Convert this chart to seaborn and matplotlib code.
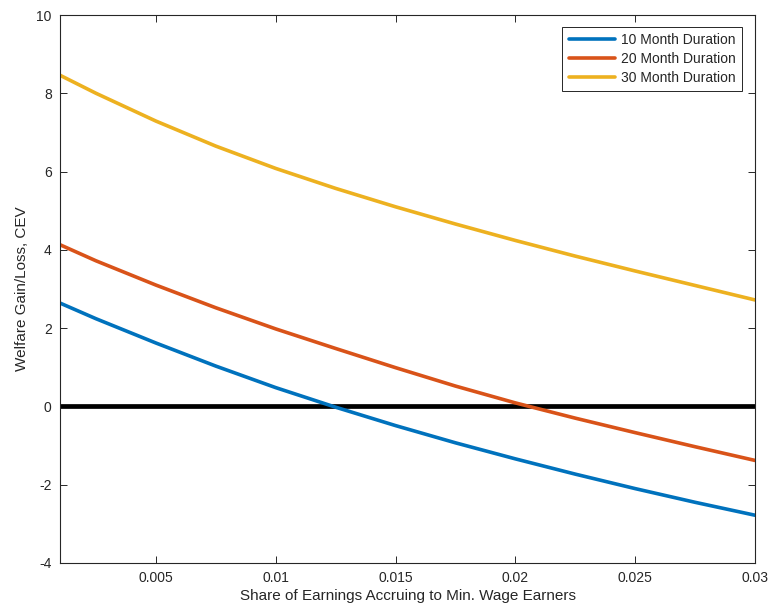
import numpy as np
import pandas as pd
import seaborn as sns
import matplotlib.pyplot as plt

# share of earnings accruing to minimum wage earners
share = [0.001, 0.0025, 0.005, 0.0075, 0.01, 0.0125, 0.015,
         0.0175, 0.02, 0.0225, 0.025, 0.0275, 0.03]

cev_10 = [2.64, 2.24, 1.62, 1.03, 0.48, -0.02, -0.49,
          -0.93, -1.34, -1.73, -2.10, -2.45, -2.78]
cev_20 = [4.13, 3.72, 3.10, 2.52, 1.98, 1.48, 0.99,
          0.52, 0.09, -0.30, -0.67, -1.03, -1.38]
cev_30 = [8.46, 8.00, 7.29, 6.65, 6.08, 5.57, 5.10,
          4.66, 4.24, 3.84, 3.46, 3.09, 2.72]

labels = ["10 Month Duration", "20 Month Duration", "30 Month Duration"]
colors = ["#0072BD", "#D95319", "#EDB120"]

df = pd.concat([
    pd.DataFrame({"share": share, "cev": vals, "series": lab})
    for vals, lab in zip([cev_10, cev_20, cev_30], labels)
])

sns.set_theme(style="ticks")
plt.rcParams["font.family"] = ["Liberation Sans", "DejaVu Sans"]
plt.rcParams["axes.unicode_minus"] = False

fig = plt.figure(figsize=(7.7, 6.15), dpi=100)
ax = fig.add_axes([0.078, 0.0846, 0.9025, 0.891])

sns.lineplot(data=df, x="share", y="cev", hue="series", palette=colors,
             hue_order=labels, linewidth=2.6, ax=ax, sort=False)
ax.axhline(0, color="black", linewidth=3.4, zorder=1)

ax.set_xlim(0.001, 0.03)
ax.set_ylim(-4, 10)
ax.set_xticks([0.005, 0.01, 0.015, 0.02, 0.025, 0.03])
ax.set_xticklabels(["0.005", "0.01", "0.015", "0.02", "0.025", "0.03"])
ax.set_yticks(range(-4, 11, 2))
ax.tick_params(direction="in", top=True, right=True, length=5, width=0.7,
               colors="#262626", labelsize=10, pad=6)
for sp in ax.spines.values():
    sp.set_color("#262626")
    sp.set_linewidth(0.8)

ax.set_xlabel("Share of Earnings Accruing to Min. Wage Earners", fontsize=11,
              color="#262626", labelpad=3)
ax.set_ylabel("Welfare Gain/Loss, CEV", fontsize=11, color="#262626", labelpad=5)

leg = ax.legend(loc="upper right", fontsize=10, frameon=True, fancybox=False,
                edgecolor="#262626", framealpha=1, handlelength=3.3,
                borderpad=0.45, labelspacing=0.35, handletextpad=0.45,
                borderaxespad=0, bbox_to_anchor=(0.981, 0.978))
leg.get_frame().set_linewidth(0.7)

fig.savefig("out.png", dpi=100)
